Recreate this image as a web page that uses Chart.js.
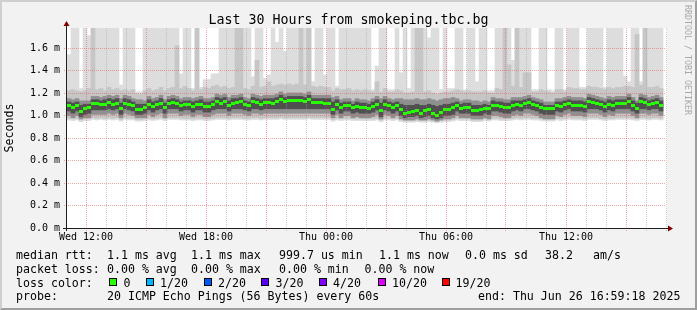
<!DOCTYPE html>
<html><head><meta charset="utf-8"><title>Last 30 Hours from smokeping.tbc.bg</title>
<script src="https://cdn.jsdelivr.net/npm/chart.js@4.4.1/dist/chart.umd.min.js"></script>
<style>
html,body{margin:0;padding:0;background:#f2f2f2;overflow:hidden}
#frame{position:absolute;left:0;top:0;width:697px;height:310px;background:#f2f2f2;box-sizing:border-box;border-top:2px solid #cfcfcf;border-left:2px solid #cfcfcf;border-right:2px solid #9e9e9e;border-bottom:2px solid #9e9e9e}
#c{position:absolute;left:0;top:0}
.t{position:absolute;font-family:'DejaVu Sans Mono',monospace;white-space:pre;color:#000;font-size:11.6px;line-height:14px}
#title{position:absolute;left:0;top:12px;width:697px;text-align:center;font-family:'DejaVu Sans Mono',monospace;font-size:13.3px;line-height:16px;color:#000;white-space:pre}
#wm{position:absolute;left:683px;top:5px;writing-mode:vertical-rl;font-family:'DejaVu Sans Mono',monospace;font-size:8.3px;line-height:10px;color:#a8a8a8;white-space:pre}
.box{position:absolute;width:8px;height:8px;box-sizing:border-box;border:1px solid #000;top:278px}
</style></head>
<body>
<div id="frame"></div>
<canvas id="c" width="697" height="310"></canvas>
<div id="title">Last 30 Hours from smokeping.tbc.bg</div>
<div id="wm">RRDTOOL / TOBI OETIKER</div>
<div id="legend"></div>
<script>
// ---- data (ms), one value per 12-minute column ----
const stepMinutes = 12;
const median = [
1.087,1.074,1.087,1.036,1.062,1.068,1.104,1.104,1.098,1.101,
1.119,1.101,1.110,1.059,1.110,1.101,1.086,1.056,1.056,1.068,
1.101,1.080,1.095,1.110,1.074,1.107,1.116,1.107,1.086,1.095,
1.095,1.080,1.095,1.101,1.083,1.083,1.095,1.128,1.110,1.122,
1.092,1.110,1.119,1.125,1.095,1.086,1.125,1.113,1.101,1.119,
1.119,1.110,1.122,1.140,1.128,1.134,1.134,1.134,1.134,1.122,
1.140,1.113,1.113,1.113,1.110,1.110,1.056,1.101,1.074,1.086,
1.086,1.068,1.080,1.074,1.074,1.065,1.080,1.101,1.042,1.101,
1.086,1.074,1.086,1.050,1.021,1.030,1.036,1.045,1.021,1.042,
1.056,1.021,1.003,1.027,1.050,1.056,1.068,1.086,1.065,1.071,
1.071,1.045,1.045,1.050,1.065,1.059,1.092,1.086,1.080,1.071,
1.074,1.092,1.098,1.092,1.107,1.113,1.098,1.086,1.074,1.059,
1.059,1.059,1.086,1.080,1.098,1.107,1.092,1.092,1.092,1.080,
1.122,1.113,1.107,1.098,1.080,1.101,1.092,1.107,1.107,1.107,
1.125,1.092,1.065,1.125,1.119,1.098,1.107,1.113,1.092];
const rttMax = [
1.54,1.8,1.8,1.24,1.8,1.71,1.8,1.8,1.8,1.8,
1.8,1.8,1.8,1.27,1.8,1.8,1.8,1.21,1.21,1.8,
1.8,1.8,1.8,1.8,1.8,1.8,1.8,1.8,1.37,1.8,
1.8,1.24,1.8,1.25,1.32,1.32,1.37,1.37,1.8,1.8,
1.8,1.8,1.8,1.8,1.8,1.8,1.345,1.8,1.8,1.33,
1.36,1.8,1.65,1.8,1.57,1.8,1.8,1.8,1.8,1.8,
1.8,1.30,1.8,1.8,1.36,1.8,1.8,1.26,1.8,1.8,
1.8,1.8,1.8,1.8,1.8,1.8,1.23,1.44,1.8,1.8,
1.23,1.23,1.8,1.38,1.8,1.24,1.8,1.8,1.8,1.8,
1.69,1.8,1.8,1.23,1.8,1.24,1.24,1.8,1.8,1.23,
1.8,1.8,1.30,1.8,1.8,1.22,1.22,1.8,1.8,1.8,
1.8,1.49,1.8,1.8,1.8,1.8,1.23,1.23,1.8,1.8,
1.23,1.22,1.8,1.8,1.23,1.8,1.8,1.8,1.25,1.25,
1.8,1.8,1.8,1.8,1.25,1.8,1.8,1.8,1.8,1.35,
1.30,1.8,1.8,1.30,1.8,1.8,1.8,1.8,1.8];
const rtt19 = [
1.22,1.23,1.22,1.21,1.22,1.24,1.8,1.23,1.24,1.22,
1.25,1.23,1.24,1.22,1.23,1.22,1.23,1.19,1.19,1.22,
1.24,1.22,1.23,1.25,1.22,1.24,1.25,1.62,1.24,1.26,
1.24,1.22,1.8,1.23,1.25,1.24,1.26,1.27,1.25,1.26,
1.24,1.25,1.8,1.8,1.24,1.23,1.26,1.49,1.25,1.26,
1.30,1.26,1.27,1.28,1.27,1.28,1.27,1.28,1.8,1.27,
1.8,1.26,1.25,1.26,1.25,1.25,1.22,1.24,1.23,1.23,
1.24,1.22,1.23,1.22,1.23,1.22,1.21,1.30,1.21,1.24,
1.21,1.21,1.23,1.22,1.20,1.20,1.21,1.8,1.8,1.21,
1.22,1.20,1.19,1.20,1.21,1.21,1.22,1.23,1.22,1.21,
1.22,1.21,1.21,1.21,1.22,1.20,1.20,1.24,1.23,1.8,
1.45,1.26,1.8,1.25,1.38,1.38,1.21,1.21,1.23,1.22,
1.21,1.20,1.23,1.23,1.21,1.25,1.24,1.24,1.23,1.23,
1.26,1.25,1.25,1.24,1.23,1.25,1.24,1.25,1.25,1.26,
1.26,1.25,1.72,1.27,1.8,1.25,1.25,1.26,1.24];
const rtt16 = [
1.15,1.14,1.15,1.13,1.13,1.13,1.17,1.17,1.16,1.17,
1.18,1.17,1.18,1.15,1.18,1.17,1.15,1.14,1.14,1.13,
1.17,1.15,1.16,1.18,1.14,1.17,1.18,1.17,1.15,1.16,
1.16,1.15,1.16,1.17,1.15,1.15,1.16,1.19,1.18,1.19,
1.16,1.18,1.18,1.19,1.16,1.15,1.19,1.18,1.17,1.18,
1.18,1.18,1.19,1.21,1.19,1.20,1.20,1.20,1.20,1.19,
1.21,1.18,1.18,1.18,1.18,1.18,1.16,1.17,1.14,1.15,
1.15,1.13,1.15,1.14,1.14,1.13,1.15,1.17,1.15,1.17,
1.15,1.14,1.15,1.15,1.14,1.14,1.14,1.15,1.14,1.14,
1.15,1.14,1.13,1.14,1.15,1.15,1.16,1.15,1.13,1.14,
1.14,1.13,1.13,1.12,1.13,1.12,1.16,1.15,1.15,1.14,
1.14,1.16,1.16,1.16,1.17,1.18,1.16,1.15,1.14,1.12,
1.12,1.12,1.15,1.15,1.16,1.17,1.16,1.16,1.16,1.15,
1.19,1.18,1.17,1.16,1.15,1.17,1.16,1.17,1.17,1.17,
1.19,1.16,1.13,1.19,1.18,1.16,1.17,1.18,1.16];
const rtt13 = [
1.12,1.11,1.12,1.09,1.10,1.10,1.14,1.14,1.13,1.14,
1.15,1.14,1.15,1.11,1.15,1.14,1.12,1.10,1.10,1.10,
1.14,1.12,1.13,1.15,1.11,1.14,1.15,1.14,1.12,1.13,
1.13,1.12,1.13,1.14,1.12,1.12,1.13,1.16,1.15,1.16,
1.13,1.15,1.15,1.16,1.13,1.12,1.16,1.15,1.14,1.15,
1.15,1.15,1.16,1.18,1.16,1.17,1.17,1.17,1.17,1.16,
1.18,1.15,1.15,1.15,1.15,1.15,1.12,1.14,1.11,1.12,
1.12,1.10,1.12,1.11,1.11,1.10,1.12,1.14,1.11,1.14,
1.12,1.11,1.12,1.10,1.09,1.09,1.09,1.10,1.09,1.09,
1.10,1.09,1.08,1.09,1.10,1.10,1.11,1.12,1.10,1.11,
1.11,1.09,1.09,1.09,1.10,1.09,1.13,1.12,1.12,1.11,
1.11,1.13,1.13,1.13,1.14,1.15,1.13,1.12,1.11,1.09,
1.09,1.09,1.12,1.12,1.13,1.14,1.13,1.13,1.13,1.12,
1.16,1.15,1.14,1.13,1.12,1.14,1.13,1.14,1.14,1.14,
1.16,1.13,1.11,1.16,1.15,1.13,1.14,1.15,1.13];
const rtt8 = [
1.04,1.02,1.04,0.99,1.01,1.02,1.05,1.05,1.05,1.05,
1.06,1.05,1.06,1.01,1.06,1.05,1.04,1.01,1.01,1.02,
1.05,1.03,1.05,1.06,1.02,1.06,1.06,1.06,1.04,1.05,
1.05,1.03,1.05,1.05,1.03,1.03,1.05,1.06,1.06,1.06,
1.04,1.06,1.06,1.06,1.05,1.04,1.06,1.06,1.05,1.06,
1.06,1.06,1.06,1.06,1.06,1.06,1.06,1.06,1.06,1.06,
1.06,1.06,1.06,1.06,1.06,1.06,1.01,1.05,1.02,1.04,
1.04,1.02,1.03,1.02,1.02,1.02,1.03,1.05,0.99,1.05,
1.04,1.02,1.04,1.00,0.98,0.99,0.99,1.00,0.98,0.99,
1.00,0.98,0.97,0.98,1.00,1.00,1.01,1.04,1.02,1.02,
1.02,1.00,1.00,1.00,1.02,1.01,1.04,1.04,1.03,1.02,
1.02,1.04,1.05,1.04,1.06,1.06,1.05,1.04,1.02,1.01,
1.01,1.01,1.04,1.03,1.05,1.06,1.04,1.04,1.04,1.03,
1.06,1.06,1.06,1.05,1.03,1.05,1.04,1.06,1.06,1.06,
1.06,1.04,1.02,1.06,1.06,1.05,1.06,1.06,1.04];
const rtt5 = [
1.00,0.98,1.00,0.97,0.98,0.98,1.01,1.01,1.01,1.01,
1.02,1.01,1.02,0.98,1.02,1.01,1.00,0.98,0.98,0.98,
1.01,0.99,1.01,1.02,0.98,1.02,1.02,1.02,1.00,1.01,
1.01,0.99,1.01,1.01,0.99,0.99,1.01,1.02,1.02,1.02,
1.00,1.02,1.02,1.02,1.01,1.00,1.02,1.02,1.01,1.02,
1.02,1.02,1.02,1.02,1.02,1.02,1.02,1.02,1.02,1.02,
1.02,1.02,1.02,1.02,1.02,1.02,0.98,1.01,0.98,1.00,
1.00,0.98,0.99,0.98,0.98,0.98,0.99,1.01,0.97,1.01,
1.00,0.98,1.00,0.97,0.96,0.96,0.96,0.97,0.96,0.96,
0.97,0.96,0.95,0.96,0.97,0.97,0.98,1.00,0.98,0.98,
0.98,0.97,0.97,0.97,0.98,0.97,1.00,1.00,0.99,0.98,
0.98,1.00,1.01,1.00,1.02,1.02,1.01,1.00,0.98,0.97,
0.97,0.97,1.00,0.99,1.01,1.02,1.00,1.00,1.00,0.99,
1.02,1.02,1.02,1.01,0.99,1.01,1.00,1.02,1.02,1.02,
1.02,1.00,0.98,1.02,1.02,1.01,1.02,1.02,1.00];
const rtt2 = [
0.975,0.97,0.975,0.96,0.97,0.97,0.98,0.975,0.98,0.975,
0.98,0.975,0.98,0.965,0.98,0.975,0.975,0.965,0.965,0.97,
0.975,0.97,0.975,0.98,0.97,0.98,0.98,0.98,0.975,0.975,
0.975,0.97,0.975,0.975,0.97,0.97,0.975,0.98,0.98,0.98,
0.975,0.98,0.98,0.98,0.975,0.975,0.98,0.98,0.975,0.98,
0.98,0.98,0.98,0.985,0.98,0.98,0.98,0.98,0.98,0.98,
0.985,0.98,0.98,0.98,0.98,0.98,0.965,0.975,0.97,0.975,
0.975,0.97,0.97,0.97,0.97,0.97,0.97,0.975,0.96,0.975,
0.975,0.97,0.975,0.96,0.955,0.955,0.955,0.96,0.955,0.955,
0.96,0.955,0.95,0.955,0.96,0.96,0.965,0.975,0.97,0.97,
0.97,0.96,0.96,0.96,0.97,0.965,0.975,0.975,0.97,0.97,
0.97,0.975,0.98,0.975,0.98,0.98,0.975,0.975,0.97,0.965,
0.965,0.965,0.975,0.97,0.975,0.98,0.975,0.975,0.975,0.97,
0.98,0.98,0.98,0.975,0.97,0.975,0.975,0.98,0.98,0.98,
0.98,0.975,0.97,0.98,0.98,0.975,0.98,0.98,0.975];
const rttMin = [
0.96,0.955,0.96,0.945,0.955,0.955,0.965,0.96,0.965,0.96,
0.965,0.96,0.965,0.95,0.965,0.96,0.96,0.95,0.95,0.955,
0.96,0.955,0.96,0.965,0.955,0.965,0.965,0.965,0.96,0.96,
0.96,0.955,0.96,0.96,0.955,0.955,0.96,0.965,0.965,0.965,
0.96,0.965,0.965,0.965,0.96,0.96,0.965,0.965,0.96,0.965,
0.965,0.965,0.965,0.97,0.965,0.965,0.965,0.965,0.965,0.965,
0.97,0.965,0.965,0.965,0.965,0.965,0.95,0.96,0.955,0.96,
0.96,0.955,0.955,0.955,0.955,0.955,0.955,0.96,0.945,0.96,
0.96,0.955,0.96,0.945,0.94,0.94,0.94,0.945,0.94,0.94,
0.945,0.94,0.935,0.94,0.945,0.945,0.95,0.96,0.955,0.955,
0.955,0.945,0.945,0.945,0.955,0.95,0.96,0.96,0.955,0.955,
0.955,0.96,0.965,0.96,0.965,0.965,0.96,0.96,0.955,0.95,
0.95,0.95,0.96,0.955,0.96,0.965,0.96,0.96,0.96,0.955,
0.965,0.965,0.965,0.96,0.955,0.96,0.96,0.965,0.965,0.965,
0.965,0.96,0.955,0.965,0.965,0.96,0.965,0.965,0.96];

// ---- axis text ----
const xTickMinutes = [60, 420, 780, 1140, 1500];
const xTickLabels = ['Wed 12:00', 'Wed 18:00', 'Thu 00:00', 'Thu 06:00', 'Thu 12:00'];
const yTickLabels = ['0.0 m', '0.2 m', '0.4 m', '0.6 m', '0.8 m', '1.0 m', '1.2 m', '1.4 m', '1.6 m'];

// ---- legend text ----
const legendRows = [
  {top: 247.5, items: [[16,'median rtt:'],[107,'1.1 ms avg'],[191,'1.1 ms max'],[279,'999.7 us min'],[379,'1.1 ms now'],[465,'0.0 ms sd'],[545,'38.2'],[593,'am/s']]},
  {top: 261.5, items: [[16,'packet loss:'],[107,'0.00 % avg'],[191,'0.00 % max'],[279,'0.00 % min'],[364.5,'0.00 % now']]},
  {top: 275.5, items: [[16,'loss color:']]},
  {top: 289, items: [[16,'probe:'],[107,'20 ICMP Echo Pings (56 Bytes) every 60s'],[478,'end: Thu Jun 26 16:59:18 2025']]}
];
const lossLabels = ['0', '1/20', '2/20', '3/20', '4/20', '10/20', '19/20'];
const lossColors = ['#26ff00', '#00b8ff', '#0059ff', '#5e00ff', '#7e00ff', '#dd00ff', '#ff0000'];
const lossBoxX = [108.5, 145.8, 203.6, 261.4, 319, 378, 442];
const lossTextX = [123.6, 160, 218, 275.6, 333, 392, 455.6];

const lg = document.getElementById('legend');
legendRows.forEach(r => r.items.forEach(([x, s]) => {
  const d = document.createElement('div'); d.className = 't'; d.style.left = x + 'px'; d.style.top = r.top + 'px'; d.textContent = s; lg.appendChild(d);
}));
lossLabels.forEach((s, i) => {
  const b = document.createElement('div'); b.className = 'box'; b.style.left = lossBoxX[i] + 'px'; b.style.background = lossColors[i]; lg.appendChild(b);
  const d = document.createElement('div'); d.className = 't'; d.style.left = lossTextX[i] + 'px'; d.style.top = '275.5px'; d.textContent = s; lg.appendChild(d);
});

// ---- chart ----
const colX = i => i * stepMinutes + 9;
const band = (lo, hi) => lo.map((v, i) => ({x: colX(i), y: [v, hi[i]]}));
const medPts = median.map((v, i) => ({x: colX(i), y: v}));

const mark = document.createElement('canvas'); mark.width = 4; mark.height = 3;
const mctx = mark.getContext('2d'); mctx.fillStyle = '#26ff00'; mctx.fillRect(0, 0, 4, 3);

const MAJOR = 'rgba(235,80,80,0.5)';
const MINOR = 'rgba(160,160,160,0.5)';
const NONE = 'rgba(0,0,0,0)';
const xGridColor = c => { const v = c.tick ? c.tick.value : 0; if (v === 0) return NONE; return ((v - 60) % 180 === 0) ? MAJOR : MINOR; };
const yGridColor = c => { const v = c.tick ? c.tick.value : 0; const t = Math.round(v * 10); if (Math.abs(v * 10 - t) > 1e-6 || t === 0) return NONE; return t % 2 === 0 ? MAJOR : MINOR; };
const FONT = "'DejaVu Sans Mono', monospace";

const barDs = (label, lo, hi, color, order) => ({type: 'bar', label, data: band(lo, hi), backgroundColor: color, borderWidth: 0, grouped: false, barThickness: 4, order});

const frame = {
  id: 'frame',
  beforeDatasetsDraw(chart) {
    const {ctx, chartArea: a} = chart;
    ctx.save(); ctx.fillStyle = '#ffffff'; ctx.fillRect(a.left, a.top, a.right - a.left + 1, a.bottom - a.top); ctx.restore();
  },
  afterDraw(chart) {
    const {ctx, chartArea: a} = chart;
    ctx.save();
    ctx.strokeStyle = '#1f1f1f'; ctx.lineWidth = 1;
    ctx.beginPath(); ctx.moveTo(a.left + 0.5, a.bottom + 3); ctx.lineTo(a.left + 0.5, a.top - 2); ctx.stroke();
    ctx.beginPath(); ctx.moveTo(a.left - 3, a.bottom + 0.5); ctx.lineTo(a.right + 2, a.bottom + 0.5); ctx.stroke();
    ctx.fillStyle = '#800000';
    ctx.beginPath(); ctx.moveTo(a.left + 0.5, a.top - 7); ctx.lineTo(a.left + 3.5, a.top - 2); ctx.lineTo(a.left - 2.5, a.top - 2); ctx.closePath(); ctx.fill();
    ctx.beginPath(); ctx.moveTo(a.right + 7, a.bottom + 0.5); ctx.lineTo(a.right + 2, a.bottom - 2.5); ctx.lineTo(a.right + 2, a.bottom + 3.5); ctx.closePath(); ctx.fill();
    ctx.restore();
  }
};

new Chart(document.getElementById('c'), {
  type: 'bar',
  data: {
    datasets: [
      barDs('min-max', rttMin, rttMax, '#dddddd', 5),
      barDs('2-19', rtt2, rtt19, '#c6c6c6', 4),
      barDs('5-16', rtt5, rtt16, '#8f8f8f', 3),
      barDs('8-13', rtt8, rtt13, '#505050', 2),
      {type: 'scatter', label: 'median rtt', data: medPts, pointStyle: mark, pointRadius: 2, showLine: false, order: 1}
    ]
  },
  options: {
    responsive: false, animation: false, events: [],
    layout: {padding: {left: 0, right: 31, top: 28, bottom: 0}},
    plugins: {legend: {display: false}, tooltip: {enabled: false}, title: {display: false}},
    scales: {
      x: {
        type: 'linear', min: 0, max: 1800, offset: false,
        afterFit(s) { s.height = 82; },
        grid: {offset: false, z: 1, color: xGridColor, lineWidth: 1, drawTicks: true, tickLength: 3, tickColor: xGridColor, tickBorderDash: [1, 1]},
        border: {display: false, dash: [1, 1]},
        ticks: {
          stepSize: 60, autoSkip: false, maxRotation: 0, minRotation: 0, padding: 0.5, color: '#000',
          font: {family: FONT, size: 10},
          callback: v => { const i = xTickMinutes.indexOf(v); return i >= 0 ? xTickLabels[i] : ''; }
        }
      },
      y: {
        type: 'linear', min: 0, max: 1.7778,
        afterFit(s) { s.width = 66; },
        grid: {z: 1, color: yGridColor, lineWidth: 1, drawTicks: true, tickLength: 2, tickColor: yGridColor, tickBorderDash: [1, 1]},
        border: {display: false, dash: [1, 1]},
        ticks: {
          stepSize: 0.1, padding: 4, color: '#000', font: {family: FONT, size: 10},
          callback: v => { const t = Math.round(v * 10); if (Math.abs(v * 10 - t) > 1e-6 || t % 2) return ''; return yTickLabels[t / 2] || ''; }
        },
        title: {display: true, text: 'Seconds', color: '#000', font: {family: FONT, size: 11.6}, padding: {top: 3.5, bottom: 0}}
      }
    }
  },
  plugins: [frame]
});
</script>
</body></html>
